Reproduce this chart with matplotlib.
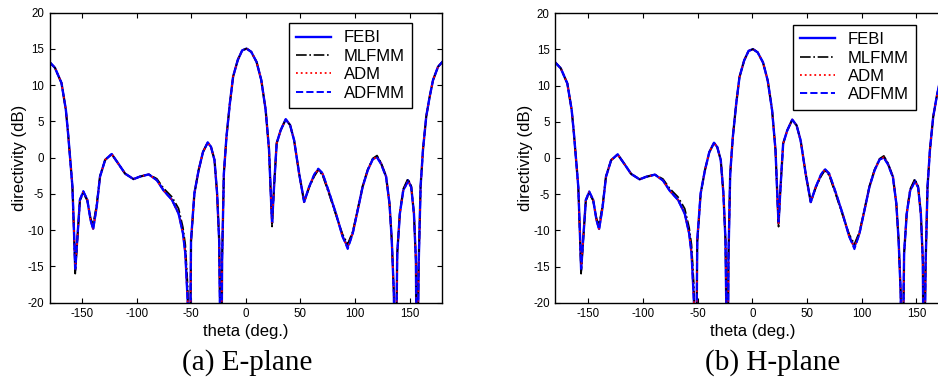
import matplotlib
matplotlib.use("Agg")
import matplotlib.pyplot as plt

plt.rcParams["axes.unicode_minus"] = False

theta = [-180, -175, -169, -165, -163, -160.7, -159, -157.7, -156.4, -154.6,
         -152.1, -149, -145.4, -142.3, -140, -136.8, -133.7, -129, -123, -117,
         -110.7, -103, -97, -89, -81.6, -75.5, -67.8, -61.7, -57.7, -55.5,
         -53.4, -51.5, -50.3, -47.2, -43.3, -39.3, -35, -32, -28.8, -26.4,
         -24.5, -22.6, -21.8, -20.2, -17.8, -14.7, -11.7, -7.4, -3.4, 0.6,
         4.9, 9.8, 14.1, 18.1, 21.2, 23.3, 24, 25.8, 28.2, 31.9,
         36.5, 40.5, 44.2, 48.8, 53.4, 58, 62.6, 66.3, 70.2, 76.4,
         82.5, 88.7, 93.3, 97.9, 102.5, 107, 111.7, 116.3, 120.2, 123.9,
         128.5, 131.6, 133.7, 135.6, 137, 138.7, 141.1, 144.2, 148.5, 151.5,
         154, 155.8, 156.8, 158.3, 160.1, 162.3, 165.3, 168.4, 171.5, 176.1,
         180]

febi = [13.2, 12.4, 10.3, 6.6, 3.4, -0.8, -4.0, -9.5, -15.5, -11.4,
        -5.8, -4.7, -5.8, -8.6, -9.8, -6.8, -2.6, -0.3, 0.5, -0.8,
        -2.2, -2.95, -2.6, -2.3, -3.1, -4.5, -5.8, -7.7, -10.4, -13.2,
        -19.6, -35, -11.4, -4.9, -1.7, 0.8, 2.1, 1.5, -0.3, -4.9,
        -11.4, -35, -14.0, -2.2, 2.9, 7.5, 11.2, 13.5, 14.8, 15.05,
        14.6, 13.2, 10.7, 6.6, 1.1, -6.8, -9.0, -4.0, 2.0, 3.8,
        5.3, 4.5, 2.4, -2.2, -6.1, -4.0, -2.4, -1.6, -2.2, -4.9,
        -7.7, -10.9, -12.3, -10.4, -7.2, -4.0, -1.7, -0.2, 0.1, -0.8,
        -2.6, -6.3, -11.4, -18.7, -35, -13.2, -7.7, -4.5, -3.1, -4.0,
        -7.7, -14.1, -35, -15.0, -4.0, 1.1, 5.7, 8.4, 10.7, 12.55,
        13.2]

mlfmm = [13.2, 12.4, 10.3, 6.6, 3.4, -0.8, -4.0, -9.8, -16.0, -11.6,
         -5.9, -4.9, -5.9, -8.4, -9.2, -6.5, -2.5, -0.3, 0.5, -0.8,
         -2.2, -2.95, -2.6, -2.3, -2.9, -4.2, -5.4, -7.0, -9.6, -12.0,
         -17.5, -35, -11.8, -5.0, -1.7, 0.8, 2.1, 1.5, -0.3, -4.9,
         -11.4, -35, -14.0, -2.2, 2.9, 7.5, 11.2, 13.5, 14.8, 15.05,
         14.6, 13.2, 10.7, 6.6, 1.1, -7.0, -9.5, -4.0, 2.0, 3.8,
         5.3, 4.5, 2.4, -2.2, -6.1, -4.1, -2.6, -1.7, -2.4, -5.1,
         -7.9, -10.6, -11.9, -10.2, -7.1, -3.9, -1.6, -0.1, 0.3, -0.7,
         -2.6, -6.3, -11.4, -18.7, -35, -13.2, -7.6, -4.3, -2.9, -3.9,
         -7.7, -14.3, -35, -15.0, -4.0, 1.1, 5.7, 8.4, 10.7, 12.55,
         13.2]

adm = [13.2, 12.4, 10.3, 6.6, 3.4, -0.8, -4.0, -9.5, -15.3, -11.4,
       -5.8, -4.7, -5.8, -8.6, -9.8, -6.8, -2.6, -0.3, 0.5, -0.8,
       -2.2, -2.95, -2.6, -2.3, -3.1, -4.5, -5.8, -7.7, -10.4, -13.2,
       -19.6, -35, -11.4, -4.9, -1.7, 0.8, 2.1, 1.5, -0.3, -4.9,
       -11.4, -35, -14.0, -2.2, 2.9, 7.5, 11.2, 13.5, 14.8, 15.05,
       14.6, 13.2, 10.7, 6.6, 1.1, -6.8, -9.0, -4.0, 2.0, 3.8,
       5.3, 4.5, 2.4, -2.2, -6.1, -4.0, -2.4, -1.6, -2.2, -4.9,
       -7.7, -10.9, -12.4, -10.4, -7.2, -4.0, -1.7, -0.2, 0.1, -0.8,
       -2.6, -6.3, -11.4, -18.7, -35, -13.2, -7.7, -4.5, -3.2, -4.0,
       -7.7, -14.1, -35, -15.0, -4.0, 1.1, 5.7, 8.4, 10.7, 12.55,
       13.2]

adfmm = [13.2, 12.4, 10.3, 6.6, 3.4, -0.8, -4.0, -9.5, -15.3, -11.4,
         -5.8, -4.6, -5.8, -8.6, -9.9, -6.8, -2.6, -0.3, 0.5, -0.8,
         -2.2, -2.95, -2.6, -2.3, -3.1, -4.5, -5.8, -7.7, -10.4, -13.2,
         -19.6, -35, -11.4, -4.9, -1.7, 0.8, 2.1, 1.5, -0.3, -4.9,
         -11.4, -35, -14.0, -2.2, 2.9, 7.5, 11.2, 13.5, 14.8, 15.05,
         14.6, 13.2, 10.7, 6.6, 1.1, -6.8, -8.8, -4.0, 2.0, 3.8,
         5.3, 4.5, 2.4, -2.2, -6.1, -4.0, -2.3, -1.5, -2.1, -4.8,
         -7.7, -10.9, -12.6, -10.5, -7.2, -4.0, -1.7, -0.2, 0.0, -0.9,
         -2.7, -6.3, -11.4, -18.7, -35, -13.2, -7.7, -4.6, -3.3, -4.1,
         -7.7, -14.1, -35, -15.0, -4.0, 1.1, 5.7, 8.4, 10.7, 12.55,
         13.2]

series_labels = ["FEBI", "MLFMM", "ADM", "ADFMM"]
xticks = [-150, -100, -50, 0, 50, 100, 150]
yticks = [-20, -15, -10, -5, 0, 5, 10, 15, 20]
captions = ["(a) E-plane", "(b) H-plane"]

W, H = 938, 382
fig = plt.figure(figsize=(W / 100, H / 100), dpi=100)
fig.patch.set_facecolor("white")

sans = ["Liberation Sans", "DejaVu Sans"]
serif = ["Liberation Serif", "DejaVu Serif"]

def px_axes(left, top, right, bottom):
    return [left / W, (H - bottom) / H, (right - left) / W, (bottom - top) / H]

axes_px = [(49.5, 12.7, 442.3, 302.7), (555.3, 13.3, 949.3, 302.7)]
legend_anchor = [(412, 23), (916, 24.7)]
caption_x = [247, 773]

styles = [dict(color="#0000ff", ls="-", lw=1.7),
          dict(color="black", ls="-.", lw=1.2),
          dict(color="#ff0000", ls=":", lw=1.3),
          dict(color="#0000ff", ls="--", lw=1.4)]
data = [febi, mlfmm, adm, adfmm]

for i in range(2):
    ax = fig.add_axes(px_axes(*axes_px[i]))
    for d, st, lab in zip(data, styles, series_labels):
        ax.plot(theta, d, label=lab, **st)
    ax.set_xlim(-180, 180)
    ax.set_ylim(-20, 20)
    ax.set_xticks(xticks)
    ax.set_yticks(yticks)
    ax.tick_params(direction="in", top=True, right=True, length=3.5, width=0.8,
                   labelsize=8.3, pad=4)
    for lbl in ax.get_xticklabels() + ax.get_yticklabels():
        lbl.set_family(sans)
    for s in ax.spines.values():
        s.set_linewidth(1.0)
    ax.set_xlabel("theta (deg.)", fontsize=12, family=sans, labelpad=3)
    ax.set_ylabel("directivity (dB)", fontsize=12, family=sans, labelpad=0)
    lx, ly = legend_anchor[i]
    leg = ax.legend(loc="upper right", bbox_to_anchor=(lx / W, (H - ly) / H),
                    bbox_transform=fig.transFigure, borderaxespad=0,
                    fancybox=False, framealpha=1, edgecolor="black",
                    prop={"family": sans, "size": 12}, handlelength=2.1,
                    handletextpad=0.75, labelspacing=0.2, borderpad=0.45)
    leg.get_frame().set_linewidth(1.0)
    fig.text(caption_x[i] / W, (H - 363) / H, captions[i], ha="center",
             va="center", fontsize=21, family=serif)

fig.savefig("out.png", dpi=100, facecolor="white")
